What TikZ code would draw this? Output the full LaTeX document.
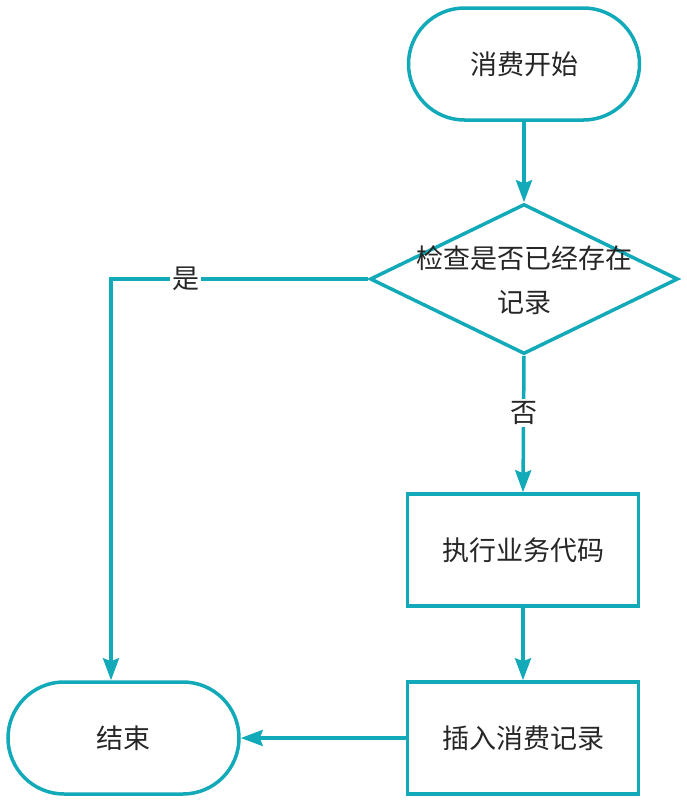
\documentclass[tikz,border=0pt]{standalone}
\usepackage{fontspec}
\setmainfont{Noto Sans CJK SC}
\usetikzlibrary{shapes.geometric,arrows.meta}
\definecolor{teal}{HTML}{12AAB9}
\definecolor{txt}{HTML}{262626}
\begin{document}
\begin{tikzpicture}[x=1pt,y=-1pt,
  every node/.style={text=txt,font=\fontsize{27}{44}\selectfont},
  term/.style={draw=teal,line width=3.5pt,rounded corners=56pt,minimum width=231pt,minimum height=112pt,inner sep=0pt},
  proc/.style={draw=teal,line width=3.5pt,minimum width=231pt,minimum height=112pt,inner sep=0pt},
  dec/.style={draw=teal,line width=3.5pt,shape=diamond,minimum width=308pt,minimum height=150pt,inner sep=0pt},
  flow/.style={draw=teal,line width=3.5pt,-{Stealth[length=22pt,width=16pt,inset=3pt]}},
  lbl/.style={fill=white,inner sep=2pt}]
\useasboundingbox (0,0) rectangle (686,803);
\node[term] (start) at (524,64) {消费开始};
\node[dec] (chk) at (524,279) {};
\node[align=center] (chktext) at (524,280) {检查是否已经存在\\记录};
\node[proc] (exec) at (523,550) {执行业务代码};
\node[proc] (ins) at (523,738) {插入消费记录};
\node[term] (end) at (123.5,738) {结束};
\coordinate (corner) at (111,279);
\draw[flow] (start) -- (chk.north);
\draw[flow] (chk.south) -- node[lbl,pos=0.42] {否} (exec.north);
\draw[flow] (exec) -- (ins);
\draw[flow] (ins) -- (end);
\draw[flow] (chk.west) -- node[lbl,pos=0.71] {是} (corner) -- (corner |- end.north);
\end{tikzpicture}
\end{document}
